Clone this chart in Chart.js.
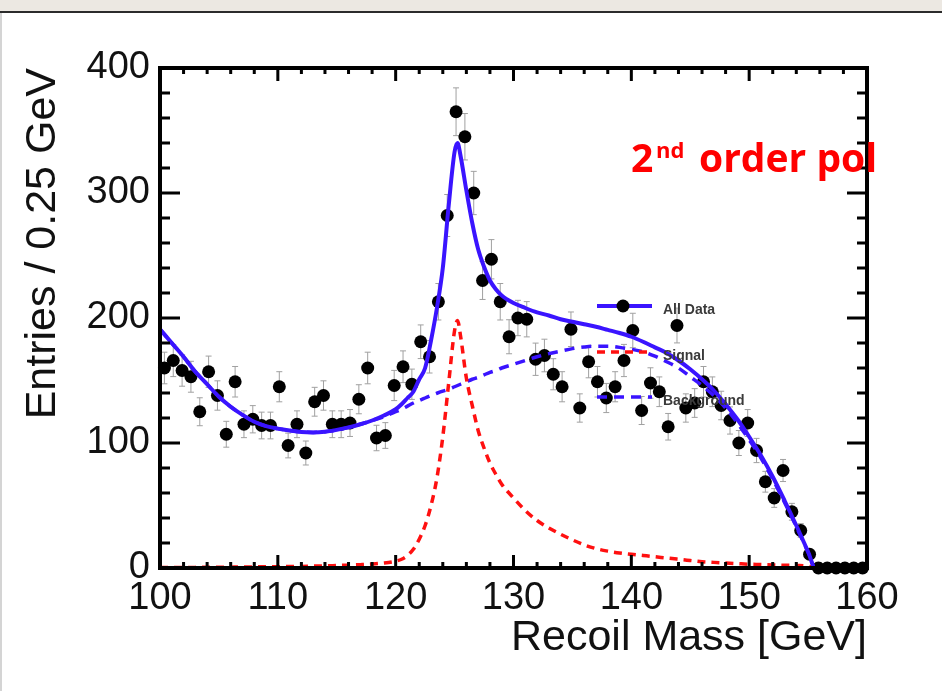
<!DOCTYPE html>
<html>
<head>
<meta charset="utf-8">
<script src="https://cdn.jsdelivr.net/npm/chart.js@4.4.1/dist/chart.umd.min.js"></script>
<style>
  html, body { margin: 0; padding: 0; background: #fff; }
  #wrap { position: relative; width: 942px; height: 691px; overflow: hidden; }
  #topbar { position: absolute; left: 0; top: 0; width: 942px; height: 11px; background: #ece8e2; border-bottom: 2px solid #2b2b2b; z-index: 2; }
  #leftbar { position: absolute; left: 0; top: 13px; width: 2px; height: 678px; background: #d4d4d4; z-index: 2; }
  canvas { position: absolute; left: 0; top: 0; }
</style>
</head>
<body>
<div id="wrap">
  <div id="topbar"></div>
  <div id="leftbar"></div>
  <canvas id="recoilChart" width="942" height="691"></canvas>
</div>
<script>
// bin centres (0.75 GeV wide bins) and entries
const massBins = [
  100.375, 101.125, 101.875, 102.625, 103.375, 104.125, 104.875, 105.625, 106.375, 107.125,
  107.875, 108.625, 109.375, 110.125, 110.875, 111.625, 112.375, 113.125, 113.875, 114.625,
  115.375, 116.125, 116.875, 117.625, 118.375, 119.125, 119.875, 120.625, 121.375, 122.125,
  122.875, 123.625, 124.375, 125.125, 125.875, 126.625, 127.375, 128.125, 128.875, 129.625,
  130.375, 131.125, 131.875, 132.625, 133.375, 134.125, 134.875, 135.625, 136.375, 137.125,
  137.875, 138.625, 139.375, 140.125, 140.875, 141.625, 142.375, 143.125, 143.875, 144.625,
  145.375, 146.125, 146.875, 147.625, 148.375, 149.125, 149.875, 150.625, 151.375, 152.125,
  152.875, 153.625, 154.375, 155.125, 155.875, 156.625, 157.375, 158.125, 158.875, 159.625
];
const entries = [
  160, 166, 158, 153, 125, 157, 138, 107, 149, 115,
  119, 114, 114, 145, 98, 115, 92, 133, 138, 115,
  115, 116, 135, 160, 104, 106, 146, 161, 147, 181,
  169, 213, 282, 365, 345, 300, 230, 247, 213, 185,
  200, 199, 167, 170, 155, 145, 191, 128, 165, 149,
  136, 145, 166, 190, 126, 148, 141, 113, 194, 128,
  132, 149, 141, 130, 118, 100, 116, 94, 69, 56,
  78, 45, 30, 11, 0, 0, 0, 0, 0, 0
];

// fit curves, read at these masses
const fitMass = [
  100, 101, 102, 103, 104, 105, 106, 107, 108, 109,
  110, 111, 112, 113, 114, 115, 116, 117, 118, 119,
  120, 120.5, 121, 121.5, 122, 122.5, 123, 123.5, 124, 124.5,
  125, 125.25, 125.5, 126, 126.5, 127, 127.5, 128, 128.5, 129,
  130, 131, 132, 133, 134, 135, 136, 137, 138, 139,
  140, 141, 142, 143, 144, 145, 146, 147, 148, 149,
  150, 151, 152, 153, 154, 155, 155.6, 160
];
const fitTotal = [
  191, 180, 169, 157, 147, 137, 129, 122.5, 117, 113.5,
  111.5, 110, 108.8, 108.5, 109, 110.5, 112.5, 115, 118, 122,
  127, 131, 136, 141, 151, 160, 182, 208, 240, 290,
  333, 340, 330, 302, 276, 255, 241, 230, 223, 218,
  212, 208, 204.5, 202, 199, 197, 195, 193, 190.5, 188,
  185, 181, 176.5, 172, 166, 159, 151, 142, 131, 119,
  105, 90, 73, 54, 34, 13, 0, 0
];
const fitSignal = [
  0.5, 0.5, 0.5, 0.5, 0.6, 0.6, 0.7, 0.8, 0.9, 1,
  1, 1.2, 1.3, 1.5, 1.7, 2, 2.3, 2.7, 3.2, 4,
  5.5, 7, 10, 15, 23, 34, 50, 72, 105, 148,
  190, 198, 186, 152, 130, 110, 96, 84, 75, 67,
  56, 46, 38, 32, 27, 22.5, 18.5, 15.5, 13.5, 12,
  11, 10, 9, 8, 7, 6, 5, 4.5, 4, 3.5,
  3, 2.8, 2.5, 2.2, 2, 1.5, 0, 0
];
const fitBackground = [
  191, 180, 169, 157, 147, 137, 129, 122.5, 117, 113.5,
  111.5, 110, 108.8, 108.5, 109, 110.5, 112.5, 115, 118, 121,
  125, 127, 129.5, 132, 134, 136, 138, 139.8, 141.5, 143,
  145, 146, 147, 149, 151, 152.5, 154.5, 156.5, 158, 160,
  163, 166, 169, 171.5, 173.5, 175.5, 176.8, 177.5, 177.5, 176.5,
  175, 173, 169.5, 165, 160, 153, 146, 138, 128, 116,
  102.5, 88, 71, 52.5, 33, 12.5, 0, 0
];

const xTicks = [100, 110, 120, 130, 140, 150, 160];
const yTicks = [0, 100, 200, 300, 400];
const legendLabels = ['All Data', 'Signal', 'Background'];

const FONT = '"Liberation Sans", Arial, Helvetica, sans-serif';
const BLUE = '#3a14ff';
const RED = '#ff1010';

function toPoints(xs, ys) {
  return xs.map((x, i) => ({ x: x, y: ys[i] }));
}

// error bars under the markers, frame with inward ticks, legend and label on top
const rootStyle = {
  id: 'rootStyle',
  beforeDatasetsDraw(chart) {
    const ctx = chart.ctx;
    const xs = chart.scales.x, ys = chart.scales.y;
    ctx.save();
    ctx.strokeStyle = '#a0a0a0';
    ctx.lineWidth = 1;
    massBins.forEach((m, i) => {
      const n = entries[i];
      if (n <= 0) return;
      const e = Math.sqrt(n);
      const px = xs.getPixelForValue(m);
      const y1 = ys.getPixelForValue(n - e), y2 = ys.getPixelForValue(n + e);
      ctx.beginPath();
      ctx.moveTo(px, y1); ctx.lineTo(px, y2);
      ctx.moveTo(px - 3, y1); ctx.lineTo(px + 3, y1);
      ctx.moveTo(px - 3, y2); ctx.lineTo(px + 3, y2);
      ctx.stroke();
    });
    ctx.restore();
  },
  afterDraw(chart) {
    const ctx = chart.ctx;
    const a = chart.chartArea;
    const xs = chart.scales.x, ys = chart.scales.y;
    ctx.save();
    ctx.strokeStyle = '#000';
    ctx.lineCap = 'butt';

    // ticks
    ctx.lineWidth = 3;
    ctx.beginPath();
    for (let v = 0; v <= 400; v += 20) {
      const py = ys.getPixelForValue(v);
      const len = v % 100 === 0 ? 20 : 10;
      ctx.moveTo(a.left, py); ctx.lineTo(a.left + len, py);
      ctx.moveTo(a.right, py); ctx.lineTo(a.right - len, py);
    }
    for (let m = 100; m <= 160; m += 2) {
      const px = xs.getPixelForValue(m);
      const len = m % 10 === 0 ? 13 : 6;
      ctx.moveTo(px, a.bottom); ctx.lineTo(px, a.bottom - len);
      ctx.moveTo(px, a.top); ctx.lineTo(px, a.top + len);
    }
    ctx.stroke();

    // frame
    ctx.lineWidth = 4;
    ctx.strokeRect(a.left, a.top, a.right - a.left, a.bottom - a.top);

    // legend
    const lx0 = 597, lx1 = 652, tx = 663;
    const rows = [306, 352, 397];
    ctx.lineWidth = 4;
    ctx.strokeStyle = BLUE;
    ctx.setLineDash([]);
    ctx.beginPath(); ctx.moveTo(lx0, rows[0]); ctx.lineTo(lx1, rows[0]); ctx.stroke();
    ctx.fillStyle = '#000';
    ctx.beginPath(); ctx.arc(623, rows[0], 6.5, 0, Math.PI * 2); ctx.fill();
    ctx.lineWidth = 3.5;
    ctx.strokeStyle = RED;
    ctx.setLineDash([8, 6]);
    ctx.beginPath(); ctx.moveTo(lx0, rows[1]); ctx.lineTo(lx1, rows[1]); ctx.stroke();
    ctx.strokeStyle = BLUE;
    ctx.setLineDash([10, 7]);
    ctx.beginPath(); ctx.moveTo(lx0, rows[2]); ctx.lineTo(lx1, rows[2]); ctx.stroke();
    ctx.setLineDash([]);
    ctx.fillStyle = '#3a3a3a';
    ctx.font = 'bold 14px ' + FONT;
    ctx.textBaseline = 'middle';
    ctx.textAlign = 'left';
    legendLabels.forEach((t, i) => ctx.fillText(t, tx, rows[i] + 4));

    // red annotation
    ctx.fillStyle = '#ff0000';
    ctx.textBaseline = 'alphabetic';
    ctx.font = 'bold 39px "Open Sans", Lato, sans-serif';
    ctx.fillText('2', 631, 172);
    ctx.font = 'bold 22px "Open Sans", Lato, sans-serif';
    ctx.fillText('nd', 656, 158);
    ctx.font = 'bold 39px "Open Sans", Lato, sans-serif';
    ctx.fillText('order pol', 699, 172);
    ctx.restore();
  }
};

const ctx = document.getElementById('recoilChart').getContext('2d');
new Chart(ctx, {
  type: 'scatter',
  data: {
    datasets: [
      {
        label: 'All Data',
        data: toPoints(fitMass, fitTotal),
        showLine: true,
        borderColor: BLUE,
        borderWidth: 4,
        pointRadius: 0,
        cubicInterpolationMode: 'monotone',
        order: 0
      },
      {
        label: 'Signal',
        data: toPoints(fitMass, fitSignal),
        showLine: true,
        borderColor: RED,
        borderWidth: 3.5,
        borderDash: [8, 6],
        pointRadius: 0,
        cubicInterpolationMode: 'monotone',
        order: 1
      },
      {
        label: 'Background',
        data: toPoints(fitMass, fitBackground),
        showLine: true,
        borderColor: BLUE,
        borderWidth: 3.5,
        borderDash: [10, 7],
        pointRadius: 0,
        cubicInterpolationMode: 'monotone',
        order: 2
      },
      {
        label: 'Data',
        data: toPoints(massBins, entries),
        pointRadius: 6.5,
        pointBackgroundColor: '#000',
        pointBorderWidth: 0,
        clip: false,
        order: 3
      }
    ]
  },
  options: {
    responsive: false,
    animation: false,
    layout: { padding: { top: 68, right: 75, left: 0, bottom: 0 } },
    plugins: { legend: { display: false }, tooltip: { enabled: false } },
    scales: {
      x: {
        type: 'linear',
        min: 100,
        max: 160,
        afterBuildTicks: s => { s.ticks = xTicks.map(v => ({ value: v })); },
        afterFit: s => { s.height = 123; },
        grid: { display: false, drawTicks: false },
        border: { display: false },
        ticks: { padding: 8, color: '#111', font: { family: FONT, size: 38 } },
        title: {
          display: true,
          text: 'Recoil Mass [GeV]',
          align: 'end',
          color: '#111',
          font: { family: FONT, size: 43, lineHeight: 1 },
          padding: { top: 0, bottom: 31 }
        }
      },
      y: {
        min: 0,
        max: 400,
        afterBuildTicks: s => { s.ticks = yTicks.map(v => ({ value: v })); },
        afterFit: s => { s.width = 160; },
        grid: { display: false, drawTicks: false },
        border: { display: false },
        ticks: { padding: 10, color: '#111', font: { family: FONT, size: 38 } },
        title: {
          display: true,
          text: 'Entries / 0.25 GeV',
          align: 'end',
          color: '#111',
          font: { family: FONT, size: 43, lineHeight: 1 },
          padding: { top: 22, bottom: 0 }
        }
      }
    }
  },
  plugins: [rootStyle]
});
</script>
</body>
</html>
